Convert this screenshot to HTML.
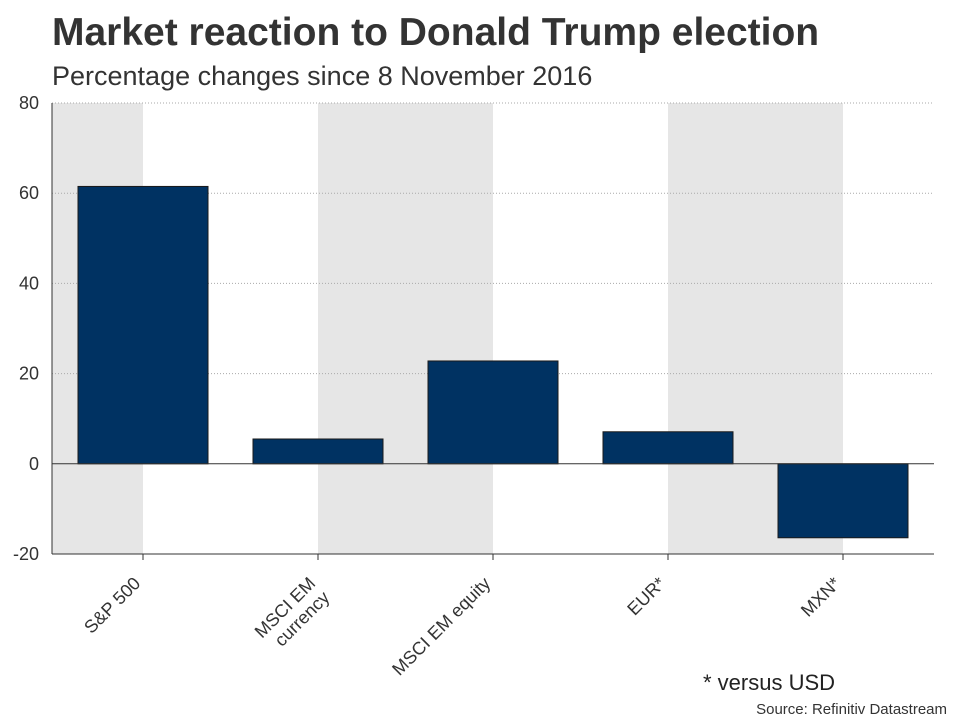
<!DOCTYPE html>
<html><head><meta charset="utf-8"><style>
body{margin:0;background:#fff;font-family:"Liberation Sans",Arial,sans-serif;}
svg text{font-family:"Liberation Sans",Arial,sans-serif;}
</style></head><body>
<svg id="chart" width="960" height="720" xmlns="http://www.w3.org/2000/svg">
<text x="52" y="45" font-size="39" font-weight="bold" fill="#333">Market reaction to Donald Trump election</text>
<text x="52" y="85" font-size="27" fill="#333">Percentage changes since 8 November 2016</text>
<g id="bands"></g><g id="grid"></g><g id="bars"></g><g id="axes"></g><g id="xlabels"></g>
<text x="703" y="690" font-size="22" fill="#222">* versus USD</text>
<text x="947" y="714" font-size="15" fill="#333" text-anchor="end">Source: Refinitiv Datastream</text>
</svg>
<script>
const categories=[["S&P 500"],["MSCI EM","currency"],["MSCI EM equity"],["EUR*"],["MXN*"]];
const values=[61.5,5.5,22.8,7.1,-16.4];
const yTicks=[-20,0,20,40,60,80];
const NS="http://www.w3.org/2000/svg";
const L=52,R=934,T=103,B=554,yMin=-20,yMax=80;
const y=v=>B-(v-yMin)/(yMax-yMin)*(B-T);
const step=175,x0=143;
const x=i=>x0+i*step;
function mk(p,t,a){const e=document.createElementNS(NS,t);for(const k in a)e.setAttribute(k,a[k]);document.getElementById(p).appendChild(e);return e;}
const bandEdges=[L];for(let i=0;i<categories.length;i++)bandEdges.push(x(i));bandEdges.push(R);
for(let i=0;i<bandEdges.length-1;i+=2){const e=mk('bands','rect',{x:bandEdges[i],y:T,width:bandEdges[i+1]-bandEdges[i],height:B-T,fill:'#e6e6e6'});

}
yTicks.forEach(v=>{
 if(v!==0&&v!==yMin){const g=mk('grid','line',{x1:L,x2:R,y1:y(v),y2:y(v),stroke:'#aaa','stroke-dasharray':'1,2','stroke-width':1});
 
 }
 const t=mk('axes','text',{x:L-13,y:y(v)+6,'font-size':18,fill:'#333','text-anchor':'end'});t.textContent=v;
 
 
});
values.forEach((v,i)=>{const top=y(Math.max(v,0)),bot=y(Math.min(v,0));
 const b=mk('bars','rect',{x:x(i)-65,y:top,width:130,height:bot-top,fill:'#003262',stroke:'#1a1a1a','stroke-width':1});
 
 });
const za=mk('axes','line',{x1:L,x2:R,y1:y(0),y2:y(0),stroke:'#333'});


const ya=mk('axes','line',{x1:L,x2:L,y1:T,y2:B,stroke:'#333'});


const xa=mk('axes','line',{x1:L,x2:R,y1:B,y2:B,stroke:'#333'});


categories.forEach((c,i)=>{
 const tk=mk('axes','line',{x1:x(i),x2:x(i),y1:B,y2:B+6,stroke:'#333'});
 
 
 const t=mk('xlabels','text',{transform:`translate(${x(i)-10},${B+22}) rotate(-45)`,'font-size':18,fill:'#333','text-anchor':'end'});
 
 
 c.forEach((line,j)=>{const s=document.createElementNS(NS,'tspan');s.setAttribute('x',0);s.setAttribute('y',12+j*20);s.textContent=line;t.appendChild(s);});
});
</script>
</body></html>
